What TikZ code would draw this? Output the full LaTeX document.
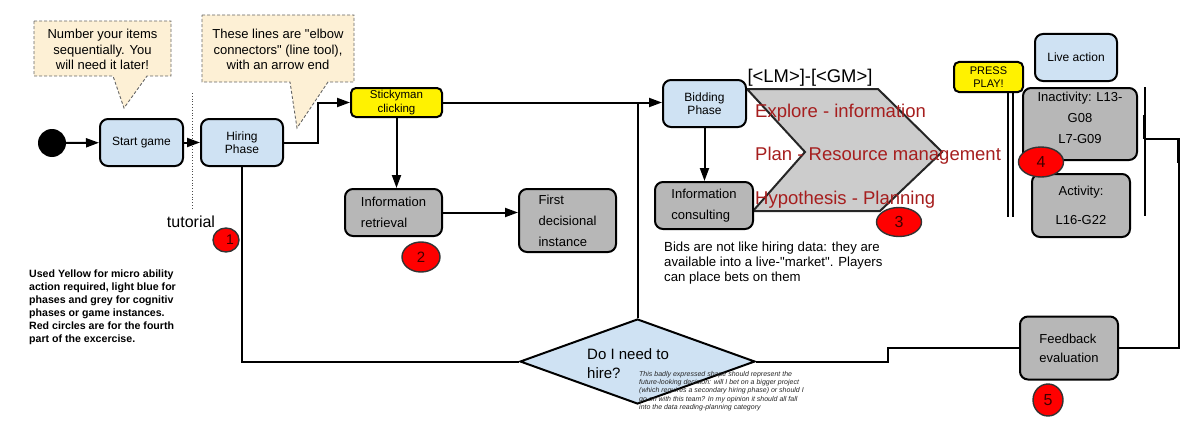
\documentclass[tikz,border=0pt]{standalone}
\usepackage{fontspec}
\setmainfont{Liberation Sans}
\usetikzlibrary{arrows.meta,shapes.geometric}
\definecolor{phaseblue}{HTML}{CFE2F3}
\definecolor{cogngrey}{HTML}{B7B7B7}
\definecolor{chevgrey}{HTML}{CCCCCC}
\definecolor{notepeach}{HTML}{FDF0D5}
\definecolor{darkred}{HTML}{A61E1E}
\tikzset{
  box/.style={draw=black, line width=2pt, rounded corners=8pt, align=center, inner sep=2pt},
  phase/.style={box, fill=phaseblue, font=\fontsize{12}{13.5}\selectfont},
  micro/.style={box, fill=yellow, rounded corners=5pt, font=\fontsize{11.5}{14}\selectfont},
  cogn/.style={box, fill=cogngrey, align=left, font=\fontsize{13}{21}\selectfont},
  redmark/.style={ellipse, draw=black!80, line width=1.4pt, fill=red, inner sep=0pt, text=black!75!red},
  note/.style={draw=black!60, dash pattern=on 3pt off 2pt, line width=0.9pt, fill=notepeach},
  conn/.style={line width=2pt},
  arr/.style={conn, -{Triangle[length=13pt,width=9pt]}}
}
\begin{document}
\begin{tikzpicture}[x=1pt,y=-1pt]
\useasboundingbox (0,0) rectangle (1196,428);

\draw[note] (34,21) -- (171,21) -- (171,76) -- (147,76) -- (124,108) -- (113,76) -- (34,76) -- cycle;
\node[align=center, font=\fontsize{13}{15.5}\selectfont] (note1) at (102.5,49.5) {Number your items\\sequentially. You\\will need it later!};
\draw[note] (202,15) -- (354,15) -- (354,82) -- (328,82) -- (297,128) -- (290,82) -- (202,82) -- cycle;
\node[align=center, font=\fontsize{13}{15.5}\selectfont] (note2) at (278,49.5) {These lines are \textquotedbl elbow\\connectors\textquotedbl{} (line tool),\\with an arrow end};

\draw[dotted, line width=0.8pt, black!70] (192,93) -- (192,210);
\draw[line width=2pt, draw=black!85, fill=chevgrey] (747,89) -- (878,89) -- (942,152) -- (880,211) -- (753,211) -- (805,152) -- cycle;

\node[circle, fill=black, minimum size=28pt, inner sep=0pt] (init) at (52,143) {};
\node[phase, minimum width=83pt, minimum height=47pt] (start) at (141.5,142.5) {Start game};
\node[phase, minimum width=82pt, minimum height=47pt] (hiring) at (242,142.5) {Hiring\\Phase};
\node[micro, minimum width=91pt, minimum height=29pt] (sticky) at (396.5,102.5) {Stickyman\\clicking};
\node[cogn, minimum width=97pt, minimum height=47pt] (inforet) at (393.5,212.5) {Information\\retrieval};
\node[cogn, minimum width=97pt, minimum height=63pt] (firstdec) at (567.5,220.5) {First\\decisional\\instance};
\node[phase, minimum width=83pt, minimum height=47pt] (bidding) at (704.5,103.5) {Bidding\\Phase};
\node[cogn, minimum width=98pt, minimum height=47pt] (infocons) at (704,205.5) {Information\\consulting};
\node[micro, minimum width=69pt, minimum height=30pt, font=\fontsize{11}{13}\selectfont] (press) at (988.5,77) {PRESS\\PLAY!};
\node[phase, minimum width=82pt, minimum height=47pt] (live) at (1076,57.5) {Live action};
\node[cogn, align=center, minimum width=114pt, minimum height=72pt] (inact) at (1080,124) {Inactivity: L13-\\G08\\L7-G09\\[-9pt]\mbox{}};
\node[cogn, align=center, minimum width=98pt, minimum height=63pt, font=\fontsize{13}{29}\selectfont] (act) at (1081,205.5) {Activity:\\L16-G22};
\node[cogn, minimum width=98pt, minimum height=63pt, font=\fontsize{13}{19}\selectfont] (feedback) at (1069,348) {Feedback\\evaluation};
\node[diamond, draw=black, line width=2pt, fill=phaseblue, minimum width=235pt, minimum height=85pt, inner sep=0pt] (hire) at (637.5,361.5) {};
\node[anchor=west, align=left, inner sep=0pt, font=\fontsize{15}{19}\selectfont] (hiretext) at (587,363.5) {Do I need to\\hire?};
\coordinate (inbrk) at (1145,139);

\draw[arr] (init) -- (start);
\draw[arr] (start) -- (hiring);
\draw[arr] (hiring.east) -- ++(34,0) |- (sticky.west);
\draw[arr] (sticky.south) -- (sticky.south |- inforet.north);
\draw[arr] (inforet.east) -- (inforet.east -| firstdec.west);
\draw[arr] (sticky.east) -- (sticky.east -| bidding.west);
\draw[conn] (hire.north) -- (hire.north |- sticky.east);
\draw[arr] (bidding.south) -- (bidding.south |- infocons.north);
\draw[conn] (hiring.south) |- (hire.west);
\draw[conn] (hire.east) -- ++(132,0) |- (feedback.west);
\draw[conn] (feedback.east) -- ++(60,0) |- (inbrk);
\draw[conn] (1145,87) -- (1145,216);
\draw[line width=2.6pt] (1144.5,115) -- (1144.5,139);
\draw[line width=2.6pt] (1178,139) -- (1178,163);
\draw[line width=1.4pt] (1008,92) -- (1008,217);
\draw[line width=1.4pt] (1013,92) -- (1013,217);

\node[redmark, minimum width=26pt, minimum height=24pt, font=\fontsize{14}{14}\selectfont] (mark1) at (226,240) {\hspace{8pt}1};
\node[redmark, minimum width=38pt, minimum height=30pt, font=\fontsize{15}{15}\selectfont] (mark2) at (421,257) {2};
\node[redmark, minimum width=45pt, minimum height=29pt, font=\fontsize{16}{16}\selectfont] (mark3) at (899,222) {3};
\node[redmark, minimum width=45pt, minimum height=30pt, font=\fontsize{16}{16}\selectfont] (mark4) at (1041,162) {4};
\node[redmark, minimum width=30pt, minimum height=32pt, font=\fontsize{16}{16}\selectfont] (mark5) at (1048,400) {5};

\node[font=\fontsize{16}{16}\selectfont] (tut) at (191,222) {tutorial};
\node[font=\fontsize{18.4}{20}\selectfont] (lmgm) at (810,78) {[<LM>]-[<GM>]};
\node[anchor=west, inner sep=0pt, text=darkred, font=\fontsize{18.5}{20}\selectfont] (explore) at (755,113) {Explore - information};
\node[anchor=west, inner sep=0pt, text=darkred, font=\fontsize{18.5}{20}\selectfont] (plan) at (755,156) {Plan - Resource management};
\node[anchor=west, inner sep=0pt, text=darkred, font=\fontsize{18.5}{20}\selectfont] (hypo) at (755,200) {Hypothesis - Planning};
\node[anchor=west, align=left, inner sep=0pt, font=\fontsize{13.2}{15}\selectfont] (bids) at (664,263) {Bids are not like hiring data: they are\\available into a live-\textquotedbl market\textquotedbl. Players\\can place bets on them};
\node[anchor=west, align=left, inner sep=0pt, font=\bfseries\fontsize{10.6}{13}\selectfont] (legend) at (29,307.5) {Used Yellow for micro ability\\action required, light blue for\\phases and grey for cognitiv\\phases or game instances.\\Red circles are for the fourth\\part of the excercise.};
\node[anchor=west, align=left, inner sep=0pt, text=black!85, font=\itshape\fontsize{7}{8.25}\selectfont] (remark) at (639,391) {This badly expressed shape should represent the\\future-looking decision: will I bet on a bigger project\\(which requires a secondary hiring phase) or should I\\go on with this team? In my opinion it should all fall\\into the data reading-planning category};
\end{tikzpicture}
\end{document}
